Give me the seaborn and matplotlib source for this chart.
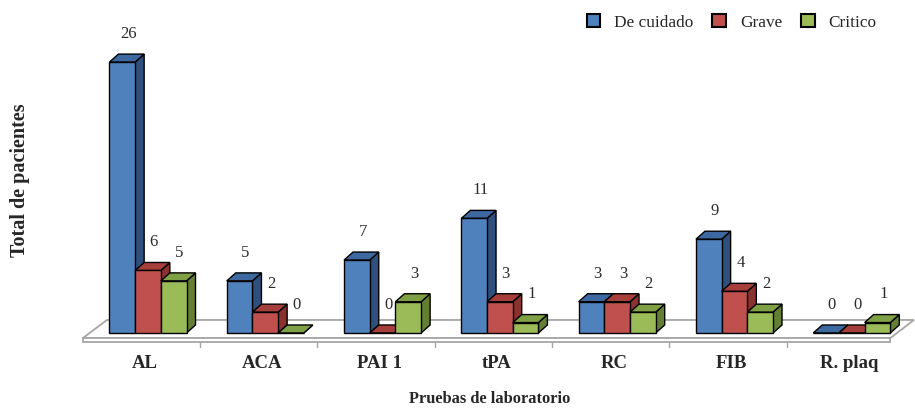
import matplotlib
matplotlib.use("Agg")
import matplotlib.pyplot as plt
import matplotlib.transforms as mtransforms
from matplotlib.patches import Polygon, Rectangle
import seaborn as sns
import pandas as pd

# Data
pruebas = ["AL", "ACA", "PAI 1", "tPA", "RC", "FIB", "R. plaq"]
de_cuidado = [26, 5, 7, 11, 3, 9, 0]
grave = [6, 2, 0, 3, 3, 4, 0]
critico = [5, 0, 3, 1, 2, 2, 1]
series = ["De cuidado", "Grave", "Critico"]

front_colors = ["#4F81BD", "#C0504D", "#9BBB59"]
top_colors = ["#3D68A0", "#A63F3C", "#80A046"]
side_colors = ["#2F507C", "#8A3230", "#647F33"]

df = pd.DataFrame({
    "prueba": pruebas * 3,
    "serie": [s for s in series for _ in pruebas],
    "total": de_cuidado + grave + critico,
})

sns.set_theme(style="white")
plt.rcParams["font.family"] = ["Liberation Serif", "DejaVu Serif"]

fig = plt.figure(figsize=(9.15, 4.09), dpi=100)
ax = fig.add_axes([0.082, 0.1394, 0.918, 0.8117])

sns.barplot(data=df, x="prueba", y="total", hue="serie", order=pruebas,
            hue_order=series, palette=front_colors, saturation=1, width=0.657,
            edgecolor="black", linewidth=1.0, legend=False, ax=ax, zorder=5)

ax.set_xlim(-0.622, 6.539)
ax.set_ylim(-1.823, 30.04)

# depth of the pseudo-3D extrusion (data units)
DX, DY = 0.0767, 0.768

# floor slab
fl_back, fl_front, fl_bottom = 1.25, -0.48, -0.86
x_bl, x_fl = -0.35, -0.554
x_br, x_fr = 6.53, 6.33
floor_top = Polygon([(x_fl, fl_front), (x_bl, fl_back), (x_br, fl_back), (x_fr, fl_front)],
                    closed=True, facecolor="white", edgecolor="#A6A6A6", linewidth=1.3, zorder=1)
floor_edge = Polygon([(x_fl, fl_front), (x_fr, fl_front), (x_fr, fl_bottom), (x_fl, fl_bottom)],
                     closed=True, facecolor="white", edgecolor="#A6A6A6", linewidth=1.3, zorder=1)
ax.add_patch(floor_top)
ax.add_patch(floor_edge)
for i in range(len(pruebas) - 1):
    xt = i + 0.5 - 0.055
    ax.plot([xt, xt], [fl_bottom, fl_bottom - 0.45], color="#A6A6A6", lw=1.0, zorder=1)

# extrude every bar: side face, top face, then its front face on top
bars = []
for ci, cont in enumerate(ax.containers):
    for p in cont.patches:
        bars.append((p, ci))
bars.sort(key=lambda b: b[0].get_x())
for k, (p, ci) in enumerate(bars):
    x0, w, h = p.get_x(), p.get_width(), p.get_height()
    z = 5 + k * 3
    side = Polygon([(x0 + w, 0), (x0 + w + DX, DY), (x0 + w + DX, h + DY), (x0 + w, h)],
                   closed=True, facecolor=side_colors[ci], edgecolor="black", lw=1.0, zorder=z)
    top = Polygon([(x0, h), (x0 + w, h), (x0 + w + DX, h + DY), (x0 + DX, h + DY)],
                  closed=True, facecolor=top_colors[ci], edgecolor="black", lw=1.0, zorder=z + 1)
    ax.add_patch(side)
    ax.add_patch(top)
    p.set_zorder(z + 2)
    ax.text(x0 + w / 2 + 0.05, h + 2.7, f"{int(round(h))}", ha="center", va="center",
            fontsize=12, color="#2B2B2B", zorder=100)

for s in ax.spines.values():
    s.set_visible(False)
ax.set_yticks([])
ax.set_xticks(range(len(pruebas)))
ax.set_xticklabels(pruebas, fontsize=13.5, fontweight="bold")
ax.tick_params(axis="x", length=0, pad=2)
shift = mtransforms.ScaledTranslation(-3 / 100, 0, fig.dpi_scale_trans)
for t in ax.get_xticklabels():
    t.set_transform(t.get_transform() + shift)
ax.set_xlabel("")
ax.set_ylabel("")

fig.text(0.5355, 0.025, "Pruebas de laboratorio", ha="center", va="center",
         fontsize=11.8, fontweight="bold")
fig.text(0.022, 0.56, "Total de pacientes", ha="center", va="center",
         rotation=90, fontsize=14.5, fontweight="bold")

# legend
handles = [Rectangle((0, 0), 1, 1, facecolor=c, edgecolor="black", linewidth=1.5)
           for c in front_colors]
fig.legend(handles, series, loc="center right", bbox_to_anchor=(0.975, 0.945),
           ncol=3, frameon=False, fontsize=12.4, handlelength=0.8, handleheight=0.8,
           columnspacing=1.1, handletextpad=0.8)

fig.savefig("out.png", dpi=100)
